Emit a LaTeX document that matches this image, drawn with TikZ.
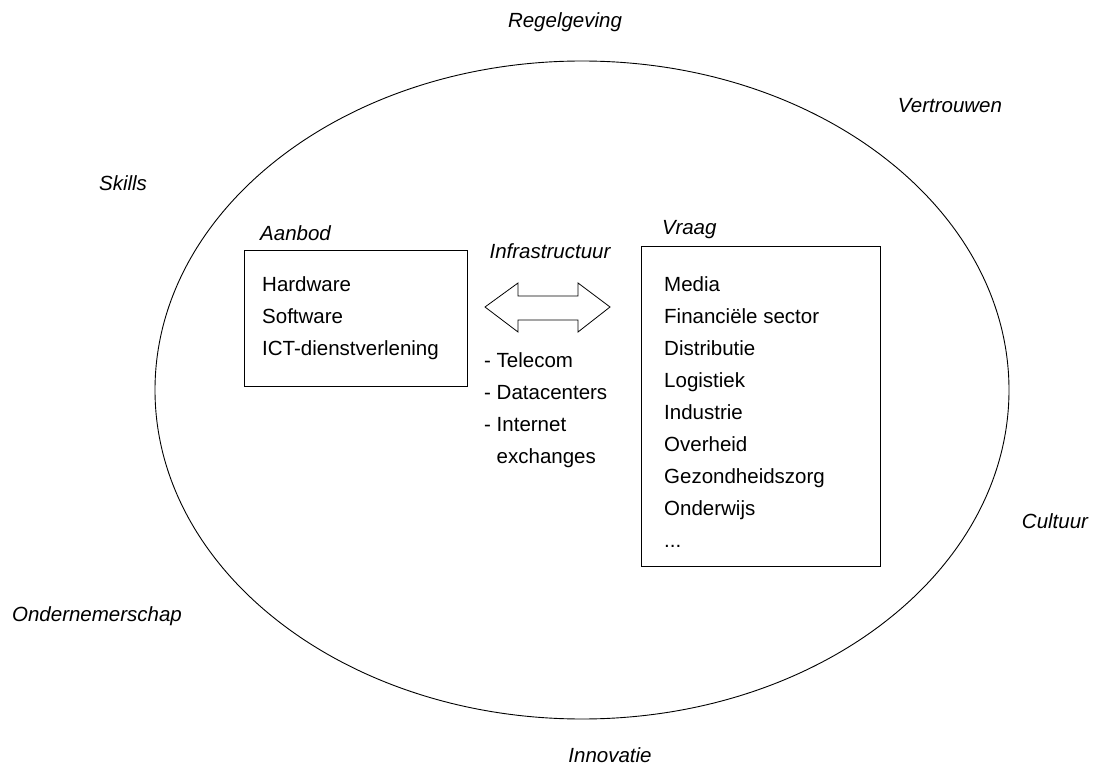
\documentclass[tikz,border=0pt]{standalone}
\usepackage{fontspec}
\setmainfont{Liberation Sans}
\usetikzlibrary{positioning}

\begin{document}
\begin{tikzpicture}[x=1pt,y=-1pt,
  factor/.style={font=\fontsize{20.5}{24}\selectfont\itshape,inner sep=0pt,anchor=base},
  framebox/.style={draw,line width=1.1pt,anchor=north west,inner sep=0pt},
  listtext/.style={align=left,anchor=north west,inner sep=0pt,font=\fontsize{20.5}{32.3}\selectfont},
  boxlabel/.style={font=\fontsize{20.5}{24}\selectfont\itshape,inner sep=0pt,anchor=base west}]
\useasboundingbox (0,0) rectangle (1093,767);

% de omgeving
\draw[line width=0.9pt] (582,390) ellipse [x radius=427, y radius=329];

% aanbod en vraag
\node[framebox,minimum width=223pt,minimum height=136pt] (aanbod) at (244,250) {};
\node[framebox,minimum width=239pt,minimum height=320pt] (vraag) at (641,246) {};
\node[listtext] (aanbodlist) at (262,276.2) {Hardware\\Software\\ICT-dienstverlening};
\node[listtext,font=\fontsize{20.5}{32}\selectfont] (vraaglist) at (664,276.7) {Media\\Financiële sector\\Distributie\\Logistiek\\Industrie\\Overheid\\Gezondheidszorg\\Onderwijs\\...};
\node[boxlabel] (aanbodlbl) at (260,241) {Aanbod};
\node[boxlabel] (vraaglbl) at (662,235) {Vraag};

% infrastructuur
\node[factor] (infralbl) at (550,258.5) {Infrastructuur};
\draw[line width=0.8pt,line join=miter] (485,307) -- (518,283) -- (518,296) -- (578,296) -- (578,283) -- (610,307)
  -- (578,332) -- (578,320) -- (518,320) -- (518,332) -- cycle;
\node[listtext,font=\fontsize{20.5}{32}\selectfont] (infra) at (484,352.7)
  {- Telecom\\- Datacenters\\- Internet\\\phantom{- }exchanges};

% randvoorwaarden
\node[factor] (regel) at (565,28) {Regelgeving};
\node[factor] (vertr) at (950,112.5) {Vertrouwen};
\node[factor] (skills) at (123,190.5) {Skills};
\node[factor] (cult) at (1055,528.5) {Cultuur};
\node[factor] (onder) at (97,621.5) {Ondernemerschap};
\node[factor] (innov) at (610,762.5) {Innovatie};
\end{tikzpicture}
\end{document}
